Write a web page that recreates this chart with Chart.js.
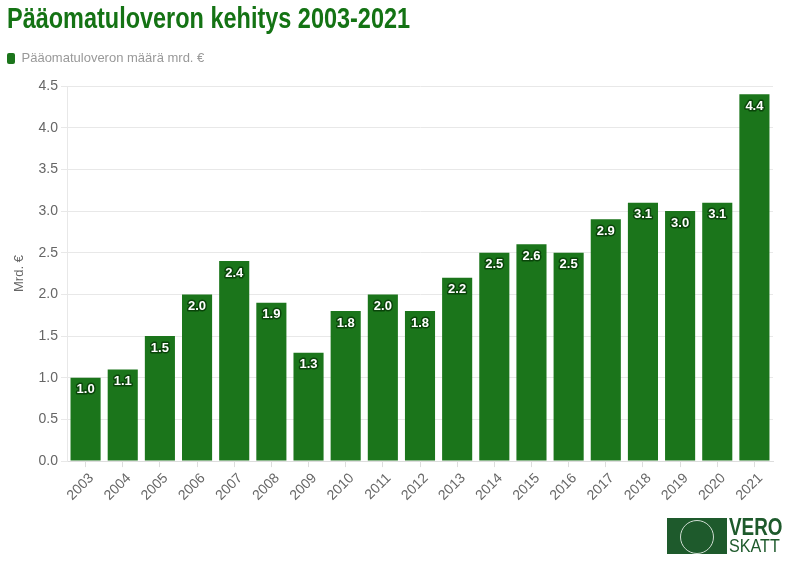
<!DOCTYPE html>
<html>
<head>
<meta charset="utf-8">
<script src="https://cdn.jsdelivr.net/npm/chart.js@4"></script>
<style>
  html, body { margin: 0; padding: 0; background: #fff; }
  #wrap { position: relative; width: 788px; height: 561px; }
  #otsikko { position: absolute; left: 7px; top: 2px; margin: 0; white-space: nowrap;
    font-family: 'Liberation Sans', Arial, sans-serif; font-size: 29px; font-weight: bold;
    color: #147314; transform-origin: 0 0; }
  #logo { position: absolute; left: 667px; top: 518px; width: 118px; height: 36px; font-family: 'Liberation Sans', Arial, sans-serif; }
  #logo .emb { position: absolute; left: 0; top: 0; width: 60px; height: 36px; background: #1e5a2c; overflow: hidden; }
  #logo .emb div { position: absolute; left: 13px; top: 2px; width: 32px; height: 32px; border: 1px solid #cfdcd2; border-radius: 50%; }
  #logo .v { position: absolute; left: 62px; top: -4px; font-size: 23px; font-weight: bold; color: #1e5a2c; transform: scaleX(0.82); transform-origin: 0 0; }
  #logo .s { position: absolute; left: 62px; top: 17px; font-size: 19px; color: #1e5a2c; transform: scaleX(0.85); transform-origin: 0 0; }
</style>
</head>
<body>
<div id="wrap">
  <canvas id="veroChart" width="788" height="561"></canvas>
  <h1 id="otsikko">Pääomatuloveron kehitys 2003-2021</h1>
  <div id="logo"><div class="emb"><div></div></div><div class="v">VERO</div><div class="s">SKATT</div></div>
</div>
<script>
const vuodet = ['2003', '2004', '2005', '2006', '2007', '2008', '2009', '2010', '2011', '2012',
    '2013', '2014', '2015', '2016', '2017', '2018', '2019', '2020', '2021'];
const vero = [1.0, 1.1, 1.5, 2.0, 2.4, 1.9, 1.3, 1.8, 2.0, 1.8,
    2.2, 2.5, 2.6, 2.5, 2.9, 3.1, 3.0, 3.1, 4.4];
const yTicks = [0, 0.5, 1, 1.5, 2, 2.5, 3, 3.5, 4, 4.5];

const vihrea = '#1b751b';
const fontti = '"Liberation Sans", Arial, sans-serif';

// otsikko on tiivistetty (condensed) -> kavennetaan leveyteen
const otsikko = document.getElementById('otsikko');
otsikko.style.transform = 'scaleX(' + (403 / otsikko.scrollWidth) + ')';

// arvot pylväiden sisään
const arvoLabels = {
    id: 'arvoLabels',
    afterDatasetsDraw(chart) {
        const ctx = chart.ctx;
        const meta = chart.getDatasetMeta(0);
        ctx.save();
        ctx.font = 'bold 13px ' + fontti;
        ctx.textAlign = 'center';
        ctx.textBaseline = 'middle';
        ctx.lineJoin = 'round';
        meta.data.forEach((bar, i) => {
            const txt = vero[i].toFixed(1);
            ctx.lineWidth = 3;
            ctx.strokeStyle = '#0a450a';
            ctx.strokeText(txt, bar.x, bar.y + 12);
            ctx.fillStyle = '#ffffff';
            ctx.fillText(txt, bar.x, bar.y + 12);
        });
        ctx.restore();
    }
};

// lisää tilaa selitteen alle
const selitevali = {
    id: 'selitevali',
    beforeInit(chart) {
        const fit = chart.legend.fit;
        chart.legend.fit = function () {
            fit.call(this);
            this.height += 11;
        };
    }
};

const ctx = document.getElementById('veroChart').getContext('2d');
new Chart(ctx, {
    type: 'bar',
    data: {
        labels: vuodet,
        datasets: [{
            label: 'Pääomatuloveron määrä mrd. €',
            data: vero,
            backgroundColor: vihrea,
            borderWidth: 0,
            categoryPercentage: 1,
            barPercentage: 0.81
        }]
    },
    plugins: [selitevali, arvoLabels],
    options: {
        responsive: false,
        animation: false,
        layout: { padding: { left: 0, right: 15, top: 45, bottom: 54 } },
        plugins: {
            legend: {
                align: 'start',
                labels: {
                    boxWidth: 8,
                    boxHeight: 11,
                    padding: 7,
                    color: '#999999',
                    font: { family: fontti, size: 13 },
                    useBorderRadius: true,
                    borderRadius: 2
                }
            },
            tooltip: { enabled: false }
        },
        scales: {
            x: {
                grid: { drawOnChartArea: false, offset: false, tickLength: 6, color: '#dddddd' },
                border: { color: '#dddddd' },
                ticks: {
                    maxRotation: 45,
                    minRotation: 45,
                    labelOffset: 6,
                    color: '#666666',
                    font: { family: fontti, size: 14 }
                }
            },
            y: {
                min: 0,
                max: 4.5,
                afterBuildTicks(axis) { axis.ticks = yTicks.map(v => ({ value: v })); },
                afterFit(axis) { axis.width = 67; },
                grid: { color: '#e8e8e8', tickLength: 6 },
                border: { color: '#e8e8e8' },
                title: {
                    display: true,
                    text: 'Mrd. €',
                    color: '#666666',
                    padding: { top: 12, bottom: 4 },
                    font: { family: fontti, size: 13 }
                },
                ticks: {
                    color: '#666666',
                    font: { family: fontti, size: 14 },
                    callback: v => v.toFixed(1)
                }
            }
        }
    }
});
</script>
</body>
</html>
